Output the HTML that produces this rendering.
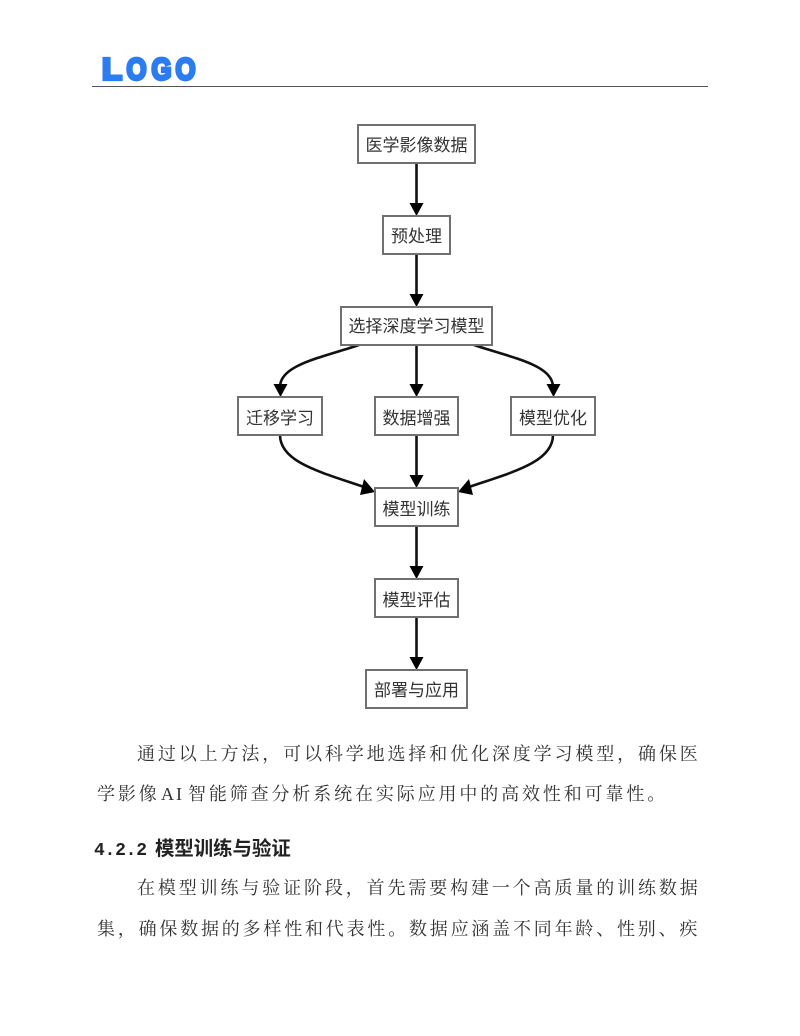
<!DOCTYPE html>
<html lang="zh">
<head>
<meta charset="utf-8">
<title>模型选择流程</title>
<style>
html,body{margin:0;padding:0;background:#fff;width:800px;height:1036px;overflow:hidden}
svg{display:block}
.n{fill:#fff;stroke:#707070;stroke-width:2}
.l{font-family:"Liberation Sans","WenQuanYi Zen Hei","Noto Sans CJK SC",sans-serif;font-size:17px;fill:#333;text-anchor:middle}
.e{fill:none;stroke:#111;stroke-width:2.6}
.h{fill:#000}
.b{font-family:"Liberation Serif","Noto Serif CJK SC",serif;font-size:18px;fill:#333;letter-spacing:2.875px}
.g{font-family:"Liberation Sans",sans-serif;font-weight:700;font-size:31px;fill:#2b7cf0;stroke:#2b7cf0;stroke-width:3.2;stroke-linejoin:miter}
</style>
</head>
<body>
<svg width="800" height="1036" viewBox="0 0 800 1036" xmlns="http://www.w3.org/2000/svg">
<rect width="800" height="1036" fill="#fff"/>
<text class="g" x="102" y="79.500" textLength="20" lengthAdjust="spacingAndGlyphs">L</text>
<text class="g" x="126.500" y="79.500" textLength="20" lengthAdjust="spacingAndGlyphs">O</text>
<text class="g" x="151.500" y="79.500" textLength="20" lengthAdjust="spacingAndGlyphs">G</text>
<text class="g" x="175.500" y="79.500" textLength="20" lengthAdjust="spacingAndGlyphs">O</text>
<rect x="92" y="86" width="616" height="1" fill="#555"/>

<path class="e" d="M416.5 163V205M416.5 254V296M416.5 345V386M416.5 435V477M416.5 526V568M416.5 617V659"/>
<path class="e" d="M359 345C320 358 280 365 280 387"/>
<path class="e" d="M474 345C513 358 553 365 553 387"/>
<path class="e" d="M280 435C280 462 320 472 364 487"/>
<path class="e" d="M553 435C553 462 513 472 469 487"/>
<path class="h" d="M409.500 203H423.500L416.500 216ZM409.500 294H423.500L416.500 307ZM409.500 384H423.500L416.500 397ZM409.500 475H423.500L416.500 488ZM409.500 566H423.500L416.500 579ZM409.500 657H423.500L416.500 670Z"/>
<path class="h" d="M273.500 384H287.500L280.500 397ZM546.500 384H560.500L553.500 397Z"/>
<path class="h" d="M364 479L360 495L375 492ZM469 479L473 495L458 492Z"/>

<rect class="n" x="358" y="125" width="117" height="38"/>
<text class="l" x="416.500" y="151">医学影像数据</text>
<rect class="n" x="383" y="216" width="67" height="38"/>
<text class="l" x="416.500" y="242">预处理</text>
<rect class="n" x="341" y="307" width="151" height="38"/>
<text class="l" x="416.500" y="332">选择深度学习模型</text>
<rect class="n" x="238" y="397" width="84" height="38"/>
<text class="l" x="280" y="424">迁移学习</text>
<rect class="n" x="375" y="397" width="83" height="38"/>
<text class="l" x="416.500" y="424">数据增强</text>
<rect class="n" x="511" y="397" width="84" height="38"/>
<text class="l" x="553" y="424">模型优化</text>
<rect class="n" x="375" y="488" width="83" height="38"/>
<text class="l" x="416.500" y="515">模型训练</text>
<rect class="n" x="375" y="579" width="83" height="38"/>
<text class="l" x="416.500" y="606">模型评估</text>
<rect class="n" x="366" y="670" width="101" height="38"/>
<text class="l" x="416.500" y="696">部署与应用</text>

<text class="b" x="137" y="760">通过以上方法&#xFF0C;可以科学地选择和优化深度学习模型&#xFF0C;确保医</text>
<text class="b" x="97" y="800">学影像</text>
<text class="b" x="161" y="800" style="letter-spacing:2px">AI</text>
<text class="b" x="188" y="800">智能筛查分析系统在实际应用中的高效性和可靠性。</text>
<text x="94" y="855" font-family="'Liberation Mono',monospace" font-weight="700" font-size="18" fill="#222" textLength="53" lengthAdjust="spacing">4.2.2</text>
<text x="155" y="855" font-family="'Liberation Sans','Noto Sans CJK SC',sans-serif" font-weight="700" font-size="19.400" fill="#222">模型训练与验证</text>
<text class="b" x="137" y="894">在模型训练与验证阶段&#xFF0C;首先需要构建一个高质量的训练数据</text>
<text class="b" x="97" y="935" style="letter-spacing:2.8px">集&#xFF0C;确保数据的多样性和代表性。数据应涵盖不同年龄、性别、疾</text>
</svg>
</body>
</html>
